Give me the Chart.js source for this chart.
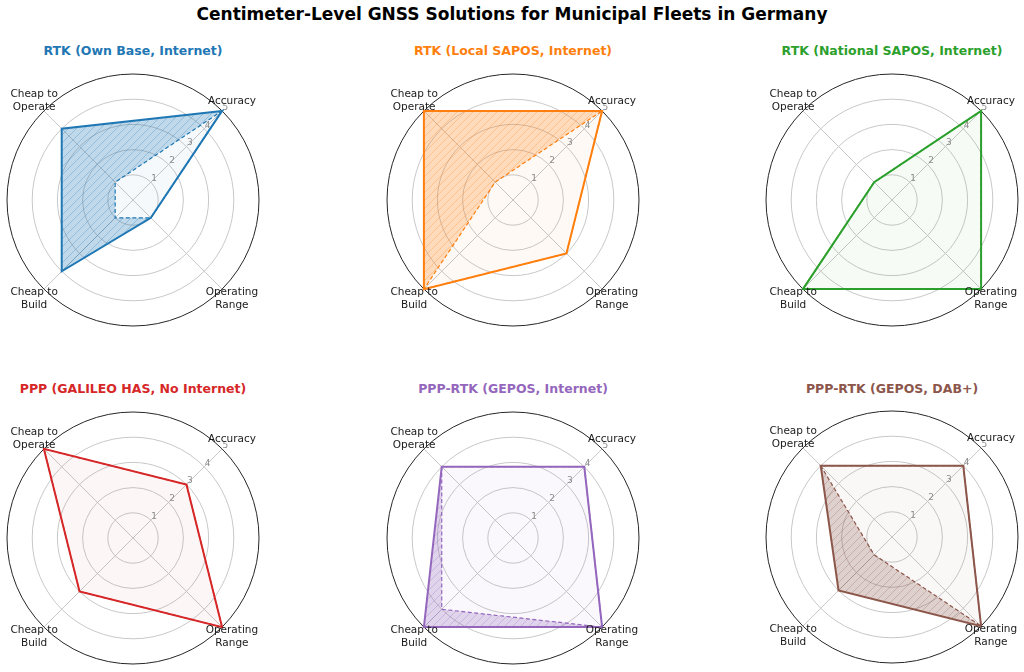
<!DOCTYPE html>
<html>
<head>
<meta charset="utf-8">
<script src="https://cdn.jsdelivr.net/npm/chart.js@4/dist/chart.umd.min.js"></script>
<style>
  html, body { margin: 0; padding: 0; background: #fff; }
  body { width: 1024px; height: 672px; position: relative; overflow: hidden; font-family: "DejaVu Sans", sans-serif; }
  #title { position: absolute; left: 0; top: 4px; width: 1024px; text-align: center; font-weight: bold; font-size: 17px; color: #000; }
  .sub { position: absolute; width: 380px; text-align: center; font-weight: bold; font-size: 12.5px; }
  canvas { position: absolute; }
</style>
</head>
<body>
<div id="title">Centimeter-Level GNSS Solutions for Municipal Fleets in Germany</div>
<script>
// axes, clockwise from the upper-right spoke
const categories = [["Accuracy"], ["Operating", "Range"], ["Cheap to", "Build"], ["Cheap to", "Operate"]];
const tickValues = [1, 2, 3, 4, 5];
const tickLabels = ["1", "2", "3", "4", "5"];

const panelTitles = [
  "RTK (Own Base, Internet)",
  "RTK (Local SAPOS, Internet)",
  "RTK (National SAPOS, Internet)",
  "PPP (GALILEO HAS, No Internet)",
  "PPP-RTK (GEPOS, Internet)",
  "PPP-RTK (GEPOS, DAB+)"
];
const panelColors = ["#1f77b4", "#ff7f0e", "#2ca02c", "#d62728", "#9467bd", "#8c564b"];

// solid outline (full rating) and dashed inner outline
const ratingValues = [
  [5, 1, 4, 4],
  [5, 3, 5, 5],
  [5, 5, 5, 1],
  [3, 5, 3, 5],
  [4, 5, 5, 4],
  [4, 5, 3, 4]
];
const baselineValues = [
  [5, 1, 1, 1],
  [5, 3, 5, 1],
  [5, 5, 5, 1],
  [3, 5, 3, 5],
  [4, 5, 4, 4],
  [4, 5, 1, 4]
];

// layout
const panelCenters = [[133, 200], [513, 200], [892, 200], [133, 538], [513, 538], [892, 537]];
const CANVAS = 280;
const PAD = 14;
const LABEL_R = 5.55;

function rgba(hex, a) {
  const n = parseInt(hex.slice(1), 16);
  return `rgba(${(n >> 16) & 255}, ${(n >> 8) & 255}, ${n & 255}, ${a})`;
}

function hatch(hex) {
  const s = 8;
  const c = document.createElement("canvas");
  c.width = s; c.height = s;
  const g = c.getContext("2d");
  g.fillStyle = rgba(hex, 0.25);
  g.fillRect(0, 0, s, s);
  g.strokeStyle = rgba(hex, 0.35);
  g.lineWidth = 0.8;
  g.beginPath();
  g.moveTo(-1, s + 1); g.lineTo(s + 1, -1);
  g.moveTo(-1, 1); g.lineTo(1, -1);
  g.moveTo(s - 1, s + 1); g.lineTo(s + 1, s - 1);
  g.stroke();
  return g.createPattern(c, "repeat");
}

const radarText = {
  id: "radarText",
  beforeDatasetsDraw(chart) {
    const r = chart.scales.r;
    const ctx = chart.ctx;
    ctx.save();
    ctx.font = '9px "DejaVu Sans"';
    ctx.fillStyle = "#8c8c8c";
    ctx.textAlign = "left";
    ctx.textBaseline = "bottom";
    tickValues.forEach((v, i) => {
      const p = r.getPointPositionForValue(0, v);
      ctx.fillText(tickLabels[i], p.x + 0.5, p.y + 1);
    });
    ctx.restore();
  },
  afterDraw(chart) {
    const r = chart.scales.r;
    const ctx = chart.ctx;
    ctx.save();
    ctx.font = '10.5px "DejaVu Sans"';
    ctx.fillStyle = "#1a1a1a";
    ctx.textAlign = "center";
    ctx.textBaseline = "middle";
    const lh = 12.7;
    categories.forEach((lines, i) => {
      const p = r.getPointPositionForValue(i, LABEL_R);
      const y0 = p.y - (lines.length - 1) * lh / 2;
      lines.forEach((t, k) => ctx.fillText(t, p.x, y0 + k * lh));
    });
    ctx.restore();
  }
};

panelTitles.forEach((title, i) => {
  const [cx, cy] = panelCenters[i];
  const color = panelColors[i];

  const head = document.createElement("div");
  head.className = "sub";
  head.textContent = title;
  head.style.color = color;
  head.style.left = (cx - 190) + "px";
  head.style.top = (i < 3 ? 43 : 381) + "px";
  document.body.appendChild(head);

  const cv = document.createElement("canvas");
  cv.width = CANVAS; cv.height = CANVAS;
  cv.style.left = (cx - CANVAS / 2) + "px";
  cv.style.top = (cy - CANVAS / 2) + "px";
  document.body.appendChild(cv);

  new Chart(cv, {
    type: "radar",
    data: {
      labels: categories,
      datasets: [
        {
          data: ratingValues[i],
          borderColor: color,
          borderWidth: 2,
          backgroundColor: rgba(color, 0.045),
          fill: "origin",
          order: 1
        },
        {
          data: baselineValues[i],
          borderColor: color,
          borderWidth: 1.2,
          borderDash: [4, 2.5],
          backgroundColor: hatch(color),
          fill: 0,
          order: 0
        }
      ]
    },
    options: {
      responsive: false,
      animation: false,
      layout: { padding: PAD },
      elements: { point: { radius: 0, hoverRadius: 0 }, line: { tension: 0 } },
      plugins: {
        legend: { display: false },
        tooltip: { enabled: false },
        filler: { drawTime: "beforeDatasetsDraw" }
      },
      scales: {
        r: {
          min: 0,
          max: 5,
          startAngle: 45,
          ticks: { stepSize: 1, display: false },
          pointLabels: { display: false },
          grid: {
            circular: true,
            color: (c) => (c.tick && c.tick.value === 5 ? "#262626" : "#c8c8c8"),
            lineWidth: 1
          },
          angleLines: { color: "#c8c8c8", lineWidth: 1 }
        }
      }
    },
    plugins: [radarText]
  });
});
</script>
</body>
</html>
